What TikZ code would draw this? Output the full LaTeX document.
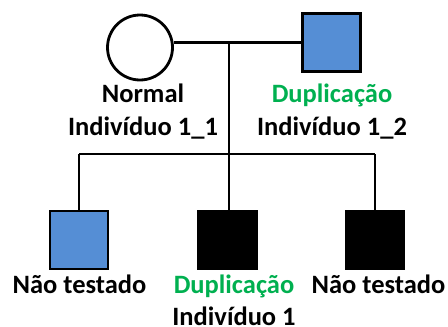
\documentclass[tikz,border=0pt]{standalone}
\usepackage{fontspec}
\setmainfont{Carlito}
\usepackage{tikz}
\usetikzlibrary{positioning,calc}
\definecolor{affblue}{HTML}{558ED5}
\definecolor{dupgreen}{HTML}{00B050}

\begin{document}
\begin{tikzpicture}[x=1pt, y=-1pt,
  male/.style={
    rectangle, draw=black, line width=2.8pt,
    minimum size=58pt, inner sep=0pt
  },
  female/.style={
    circle, draw=black, line width=2.8pt,
    minimum size=65pt, inner sep=0pt
  },
  lbl/.style={
    align=center, inner sep=0pt, anchor=base,
    font=\fontsize{26.5}{32.5}\selectfont\bfseries
  },
  link/.style={line width=2.8pt, black}
]
\useasboundingbox (0,0) rectangle (448,327);

%=== PARENTS ===
\node[female] (mother) at (140,47.5) {};
\node[male, fill=affblue] (father) at (331.5,42.5) {};

%=== CHILDREN ===
\node[male, fill=affblue] (c1) at (79,240) {};
\node[male, fill=black]   (c2) at (227.5,240) {};
\node[male, fill=black]   (c3) at (375,240) {};

%=== LABELS ===
\node[lbl] (lmother) at (143,135) {Normal\\Indivíduo 1\_1};
\node[lbl] (lfather) at (332,135) {\textcolor{dupgreen}{Duplicação}\\Indivíduo 1\_2};
\node[lbl] (lc1) at (79.5,293) {Não testado};
\node[lbl] (lc2) at (234,325.5) {\textcolor{dupgreen}{Duplicação}\\Indivíduo 1};
\node[lbl] (lc3) at (378.5,293) {Não testado};

%=== MATING LINE AND DESCENT ===
\coordinate (mid) at (229,42);
\coordinate (sib) at (229,154);
\draw[link] (father.west) -- (father.west -| mother.east);
\draw[link] (mid) -- (sib);

%=== SIBSHIP LINE ===
\draw[link] (c1.north |- sib) -- (c3.north |- sib);
\draw[link] (c1.north |- sib) -- (c1.north);
\draw[link] (sib) -- (sib |- c2.north);
\draw[link] (c3.north |- sib) -- (c3.north);

\end{tikzpicture}
\end{document}
